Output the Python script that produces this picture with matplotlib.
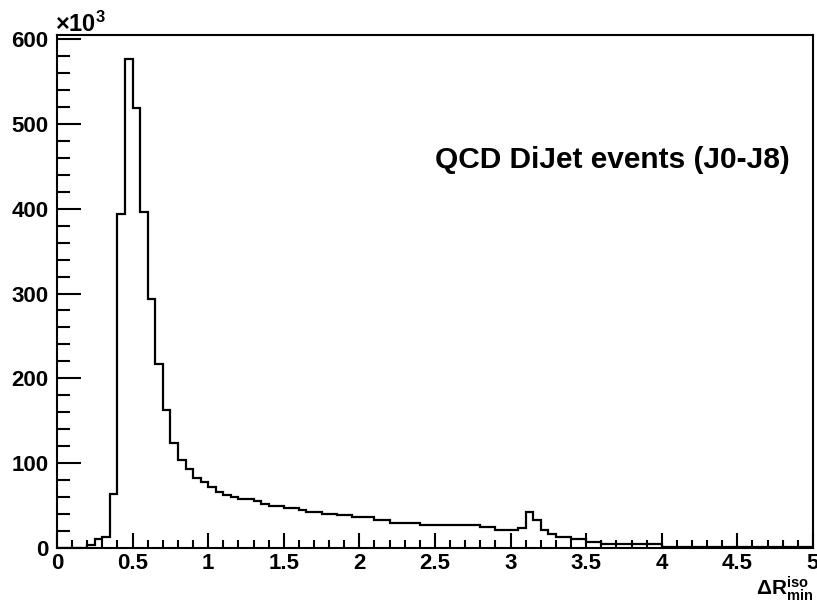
import matplotlib
matplotlib.use("Agg")
import matplotlib.pyplot as plt
from matplotlib.ticker import MultipleLocator
import numpy as np

plt.rcParams['font.family'] = ['Liberation Sans', 'DejaVu Sans']
plt.rcParams['mathtext.fontset'] = 'custom'
plt.rcParams['mathtext.rm'] = 'Liberation Sans:bold'
plt.rcParams['mathtext.it'] = 'Liberation Sans:bold'
plt.rcParams['mathtext.bf'] = 'Liberation Sans:bold'

# histogram binning: 100 bins of 0.05 on [0, 5]
bin_width = 0.05
n_bins = 100

# counts per bin, in units of 10^3
counts = [
    0, 0, 0, 0, 3.5, 10, 12.6, 63, 394, 577,
    519, 396, 293, 217, 163, 124, 103, 93, 82, 77,
    72, 65, 62, 59.5, 57.5, 57, 55, 51.7, 49.3, 49.3,
    47, 47, 44.6, 42, 42, 40, 40, 38, 38, 35.5,
    35.5, 35.5, 32, 32, 29, 29, 29, 29, 27, 27,
    27, 27, 27, 27, 27, 27, 24, 24, 20.5, 20.5,
    20.5, 23.5, 42.5, 32, 21, 16, 12.5, 12.5, 9.5, 9.5,
    6.5, 6.5, 4, 4, 4, 4, 4, 4, 4, 4,
    1.2, 1.1, 1.0, 1.0, 0.9, 0.8, 0.8, 0.7, 0.7, 0.6,
    0.6, 0.5, 0.5, 0.5, 0.4, 0.4, 0.4, 0.3, 0.3, 0.3,
]
edges = np.arange(n_bins + 1) * bin_width

fig = plt.figure(figsize=(8.17, 6.06), dpi=100)
ax = fig.add_axes([0.0698, 0.0965, 0.9252, 0.8465])

ax.stairs(counts, edges, color='black', linewidth=1.6, baseline=0)

ax.set_xlim(0, 5)
ax.set_ylim(0, max(counts) * 1.05)

ax.xaxis.set_minor_locator(MultipleLocator(0.1))
ax.yaxis.set_major_locator(MultipleLocator(100))
ax.yaxis.set_minor_locator(MultipleLocator(20))
ax.set_xticks([0, 0.5, 1, 1.5, 2, 2.5, 3, 3.5, 4, 4.5, 5])
ax.set_xticklabels(['0', '0.5', '1', '1.5', '2', '2.5', '3', '3.5', '4', '4.5', '5'])

ax.tick_params(axis='x', which='major', direction='in', length=11, width=1.5,
               labelsize=16, pad=4)
ax.tick_params(axis='x', which='minor', direction='in', length=6, width=1.5)
ax.tick_params(axis='y', which='major', direction='in', length=17, width=1.5,
               labelsize=16, pad=6)
ax.tick_params(axis='y', which='minor', direction='in', length=9, width=1.5)
for lab in ax.get_xticklabels() + ax.get_yticklabels():
    lab.set_fontweight('bold')

for sp in ax.spines.values():
    sp.set_linewidth(1.5)

ax.text(-0.003, 0.996, r'$\times10^{3}$', transform=ax.transAxes,
        fontsize=17, ha='left', va='bottom')

ax.text(0.97, 0.756, 'QCD DiJet events (J0-J8)', transform=ax.transAxes,
        fontsize=21.5, fontweight='bold', ha='right', va='center')

fig.text(0.995, 0.005, r'$\Delta\mathrm{R}^{\mathrm{iso}}_{\mathrm{min}}$',
         fontsize=15, ha='right', va='bottom')

fig.savefig('out.png', dpi=100)
